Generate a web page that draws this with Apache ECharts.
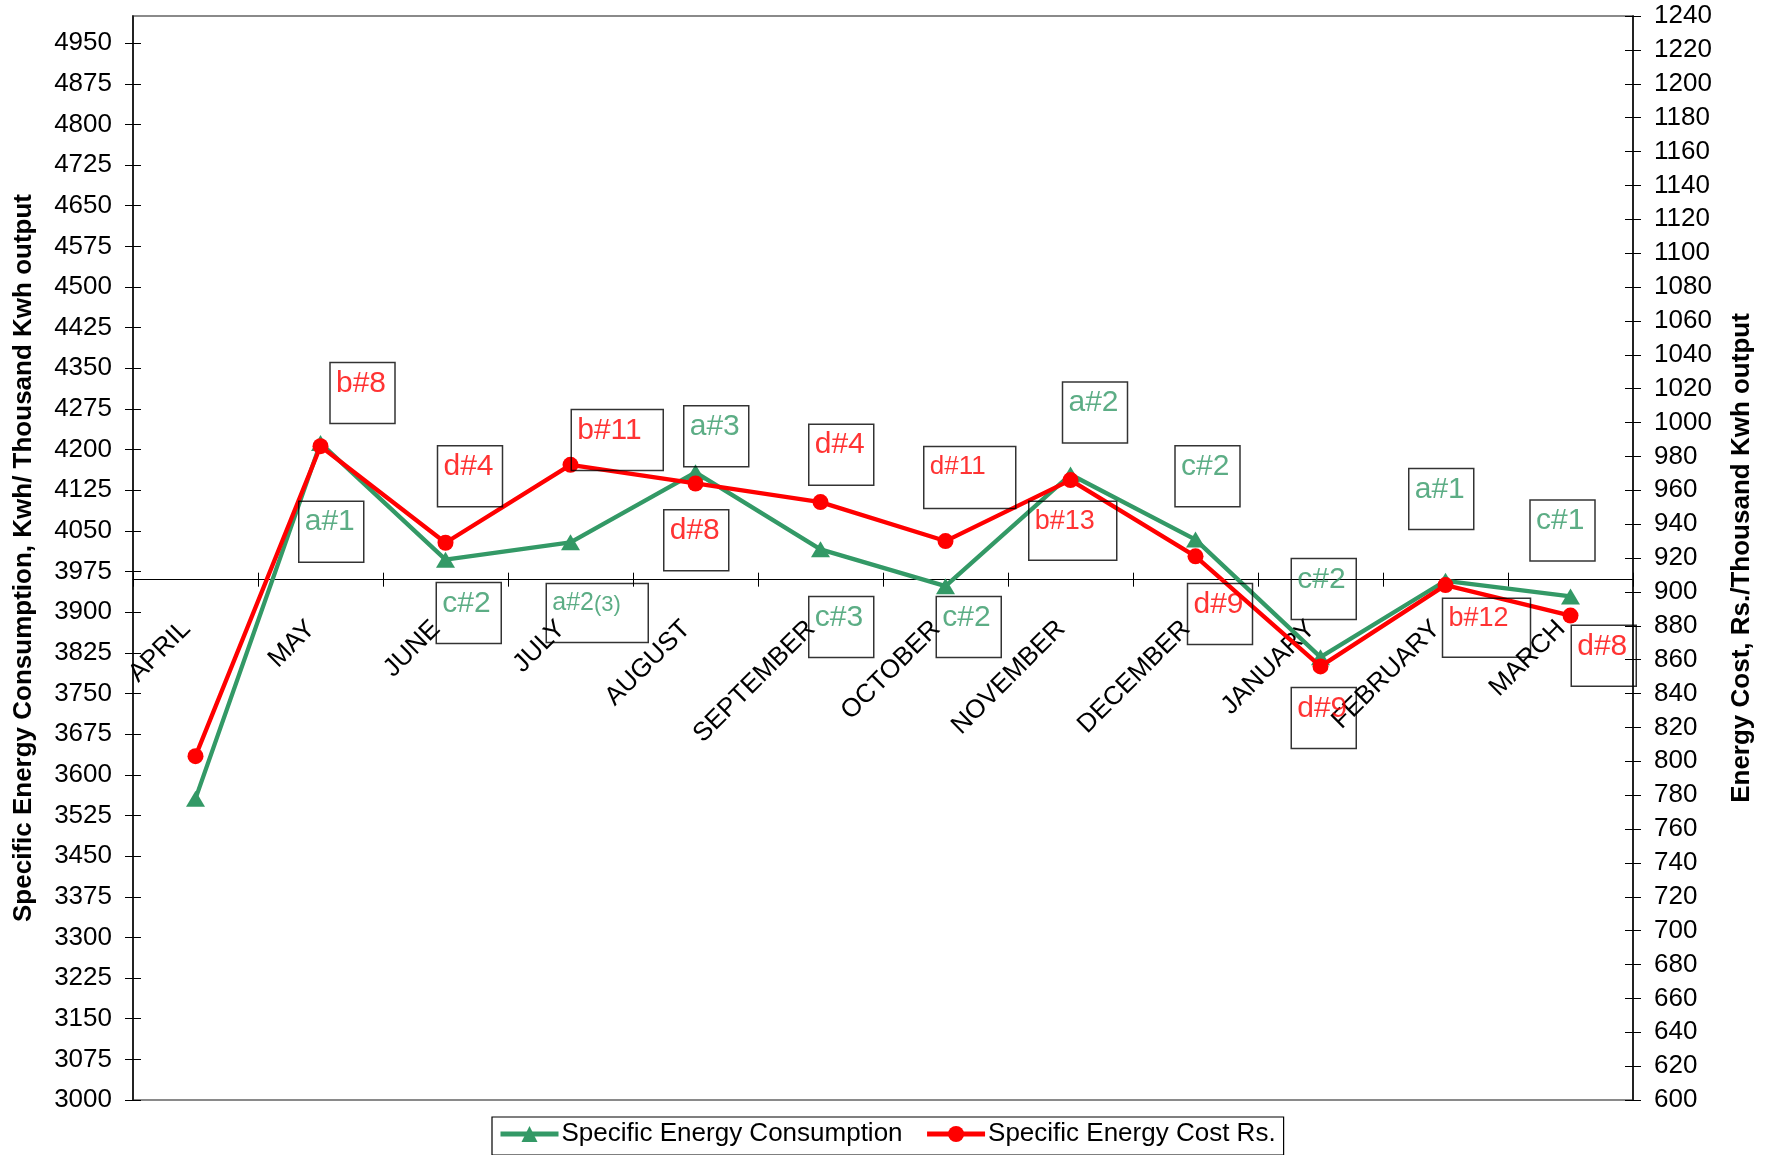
<!DOCTYPE html>
<html>
<head>
<meta charset="utf-8">
<script src="https://cdn.jsdelivr.net/npm/echarts@6/dist/echarts.min.js"></script>
<style>
html,body{margin:0;padding:0;background:#ffffff;}
#chart{width:1772px;height:1155px;}
</style>
</head>
<body>
<div id="chart"></div>
<script>
// ---------------- data ----------------
const months = ['APRIL','MAY','JUNE','JULY','AUGUST','SEPTEMBER','OCTOBER','NOVEMBER','DECEMBER','JANUARY','FEBRUARY','MARCH'];
const consumption = [3556, 4212, 3997, 4029, 4158, 4016, 3948, 4154, 4034, 3817, 3958, 3929];
const cost = [803, 986, 929, 975, 964, 953, 930, 966, 921, 856, 904, 886];
const leftTicks = [3000,3075,3150,3225,3300,3375,3450,3525,3600,3675,3750,3825,3900,3975,4050,4125,4200,4275,4350,4425,4500,4575,4650,4725,4800,4875,4950];
const rightTicks = [600,620,640,660,680,700,720,740,760,780,800,820,840,860,880,900,920,940,960,980,1000,1020,1040,1060,1080,1100,1120,1140,1160,1180,1200,1220,1240];
const categoryCrossValue = 3960;

// annotation boxes: text, which series colour, top-left anchor in data units (month index, left-axis value), box kind
const noteText   = ['b#8','a#1','d#4','c#2','b#11','a#2{s|(3)}','a#3','d#8','d#4','c#3','d#11','c#2','a#2','b#13','c#2','d#9','c#2','d#9','a#1','b#12','c#1','d#8'];
const noteSeries = ['r','g','r','g','r','g','g','r','r','g','r','g','g','r','g','r','g','r','g','r','g','r'];
const noteX      = [1.08,0.83,1.94,1.93,3.01,2.81,3.91,3.75,4.91,4.91,5.83,5.93,6.94,6.67,7.84,7.94,8.77,8.77,9.71,9.98,10.68,11.01];
const noteY      = [4360,4104,4206,3954,4273,3952,4280,4088,4246,3928,4205,3928,4324,4104,4206,3952,3998,3760,4164,3925,4106,3875];
const noteKind   = ['std','std','std','std','wide','paren','std','std','std','std','wide26','std','std','mid','std','std','std','std','std','mid','std','std'];

// ---------------- styles ----------------
const FONT = "'Liberation Sans', Arial, sans-serif";
const GREEN = '#339966';
const RED = '#ff0000';
const colorOf = {g: GREEN, r: RED};
const kindStyle = {
  std:    {width: 54, height: 51, fontSize: 30, lineHeight: 32},
  wide:   {width: 81, height: 51, fontSize: 30, lineHeight: 32},
  wide26: {width: 81, height: 52, fontSize: 26, lineHeight: 30},
  mid:    {width: 77, height: 49, fontSize: 27, lineHeight: 30},
  paren:  {width: 91, height: 49, fontSize: 25, lineHeight: 30}
};
const plain = v => String(v);

const chart = echarts.init(document.getElementById('chart'), null, {renderer: 'canvas'});

const plotLeft = 133, plotRight = 139, plotTop = 16, plotBottom = 55;
const leftMin = 3000, leftMax = 5000;

const noteData = noteText.map((t, i) => {
  const c = colorOf[noteSeries[i]];
  const k = kindStyle[noteKind[i]];
  return {
    value: [noteX[i], noteY[i]],
    label: Object.assign({}, k, {
      color: c,
      formatter: t,
      rich: {s: {fontSize: 22, color: c, fontFamily: FONT, lineHeight: 30, padding: [2, 0, 0, 0]}}
    })
  };
});

function categoryAxis(withLabels, inside) {
  return {
    type: 'category', data: months, position: 'bottom', boundaryGap: true,
    offset: 0,
    axisLine: {show: withLabels, onZero: false, lineStyle: {color: '#000', width: 1.2}},
    axisTick: {show: true, inside: inside, length: 7, interval: 0, lineStyle: {color: '#000', width: 1}},
    axisLabel: withLabels ? {
      show: true, interval: 0, rotate: 45, margin: 36, fontSize: 26, color: '#000', fontFamily: FONT,
      padding: [0, 13, 28, 0], hideOverlap: false
    } : {show: false},
    splitLine: {show: false}
  };
}

function valueAxis(pos, min, max, interval, ticks, withLabels, inside, name) {
  const ax = {
    type: 'value', position: pos, min: min, max: max, interval: interval,
    axisLine: {show: withLabels, onZero: false, lineStyle: {color: '#000', width: 1.5}},
    axisTick: {show: true, inside: inside, length: 8, customValues: ticks, lineStyle: {color: '#000', width: 1}},
    axisLabel: withLabels ? {show: true, margin: 21, fontSize: 26, color: '#000', fontFamily: FONT, customValues: ticks, formatter: plain}
                          : {show: false},
    splitLine: {show: false}
  };
  if (name) {
    ax.name = name;
    ax.nameLocation = 'middle';
    ax.nameRotate = 90;
    ax.nameGap = 96;
    ax.nameTextStyle = {fontSize: 26, fontWeight: 'bold', color: '#000', fontFamily: FONT};
  }
  return ax;
}

const option = {
  animation: false,
  backgroundColor: '#ffffff',
  textStyle: {fontFamily: FONT},
  grid: {
    left: plotLeft, right: plotRight, top: plotTop, bottom: plotBottom,
    show: true, borderColor: '#8a8a8a', borderWidth: 2, backgroundColor: 'transparent',
    containLabel: false, outerBoundsMode: 'none'
  },
  legend: {
    left: 492, top: 1117,
    orient: 'horizontal',
    borderColor: '#000', borderWidth: 1.2,
    padding: [4, 8, 8, 6],
    itemGap: 22, itemWidth: 58, itemHeight: 20,
    lineStyle: {width: 5},
    textStyle: {fontSize: 26, color: '#000', fontFamily: FONT, padding: [0, 0, 0, -2]},
    data: ['Specific Energy Consumption', 'Specific Energy Cost Rs.']
  },
  xAxis: [
    categoryAxis(true, false),
    categoryAxis(false, true),
    {type: 'value', position: 'top', min: -0.5, max: months.length - 0.5, show: false}
  ],
  yAxis: [
    valueAxis('left', leftMin, leftMax, 75, leftTicks, true, false, 'Specific Energy Consumption, Kwh/ Thousand Kwh output'),
    valueAxis('right', 600, 1240, 20, rightTicks, true, false, 'Energy Cost, Rs./Thousand Kwh output'),
    valueAxis('left', leftMin, leftMax, 75, leftTicks, false, true),
    valueAxis('right', 600, 1240, 20, rightTicks, false, true)
  ],
  series: [
    {
      name: 'Specific Energy Consumption', type: 'line', xAxisIndex: 0, yAxisIndex: 0,
      data: consumption,
      symbol: 'triangle', symbolSize: [19, 16],
      lineStyle: {color: GREEN, width: 4.3},
      itemStyle: {color: GREEN},
      z: 3
    },
    {
      name: 'Specific Energy Cost Rs.', type: 'line', xAxisIndex: 0, yAxisIndex: 1,
      data: cost,
      symbol: 'circle', symbolSize: 16,
      lineStyle: {color: RED, width: 4.3},
      itemStyle: {color: RED},
      z: 4
    },
    {
      name: 'notes', type: 'scatter', xAxisIndex: 2, yAxisIndex: 0,
      symbolSize: 1, itemStyle: {color: 'rgba(0,0,0,0)'},
      silent: true, clip: false, z: 5,
      label: {
        show: true, position: [0, 0], align: 'left', verticalAlign: 'top',
        borderColor: '#000', borderWidth: 1.5, padding: [5, 5, 5, 6],
        fontFamily: FONT, overflow: 'none'
      },
      labelLayout: {hideOverlap: false},
      data: noteData
    }
  ]
};

chart.setOption(option);

// move the category axis up so it crosses the value axis at categoryCrossValue (via the library's own scale)
const yCross = chart.convertToPixel({yAxisIndex: 0}, categoryCrossValue);
const yBase = chart.convertToPixel({yAxisIndex: 0}, leftMin);
const off = -(yBase - yCross);
chart.setOption({xAxis: [{offset: off}, {offset: off}, {}]});
</script>
</body>
</html>
